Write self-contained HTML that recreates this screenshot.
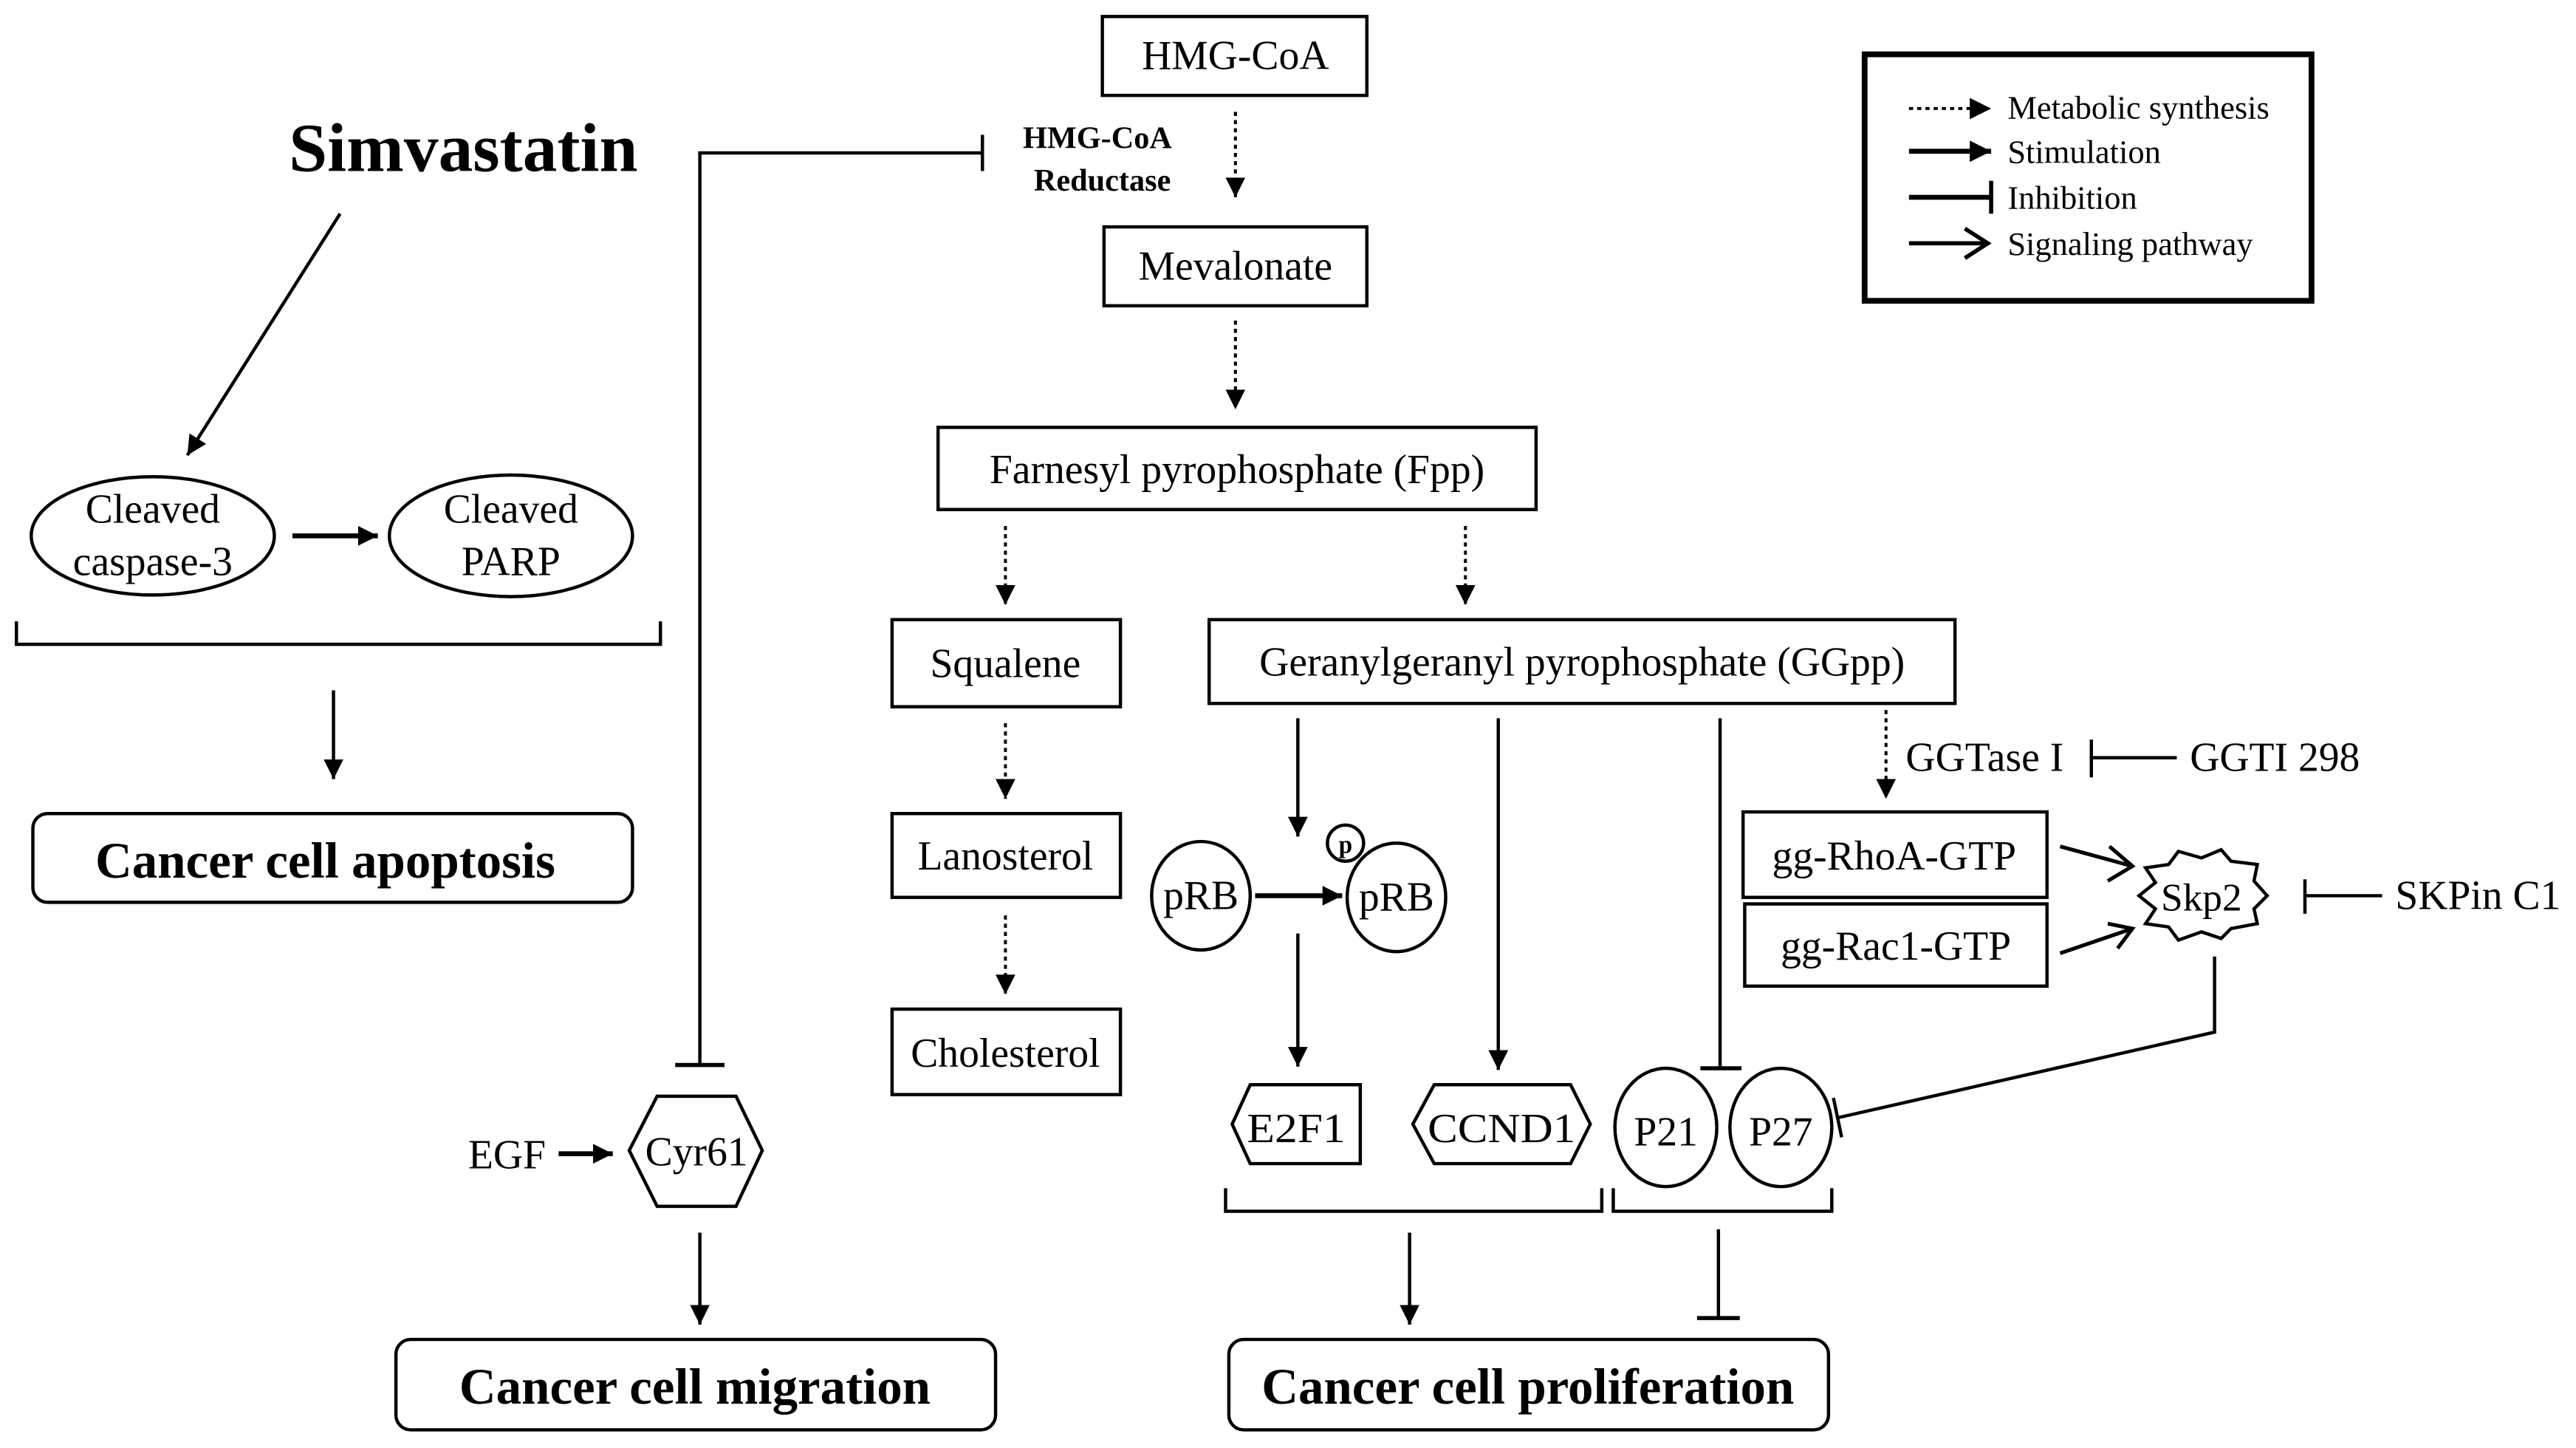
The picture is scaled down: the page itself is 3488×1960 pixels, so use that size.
<!DOCTYPE html>
<html><head><meta charset="utf-8"><style>
html,body{margin:0;padding:0;background:#fff;}
svg{display:block;}
text{font-family:"Liberation Serif",serif;fill:#000;}
</style></head><body>
<svg width="3488" height="1960" viewBox="0 0 1568 881" xmlns="http://www.w3.org/2000/svg">
<defs>
<marker id="a" viewBox="0 0 10 10" refX="10" refY="5" markerWidth="12" markerHeight="12" markerUnits="userSpaceOnUse" orient="auto"><path d="M0,0 L10,5 L0,10 z" fill="#000"/></marker>
<marker id="b" viewBox="0 0 10 10" refX="10" refY="5" markerWidth="13" markerHeight="13" markerUnits="userSpaceOnUse" orient="auto"><path d="M0,0 L10,5 L0,10 z" fill="#000"/></marker>
</defs>
<rect width="1568" height="881" fill="#fff"/>
<g fill="none" stroke="#000" stroke-width="2">
<rect x="671" y="10" width="161" height="48"/>
<rect x="672" y="138" width="160" height="48"/>
<rect x="571" y="260" width="364" height="50"/>
<rect x="543" y="377" width="139" height="53"/>
<rect x="543" y="495" width="139" height="51"/>
<rect x="543" y="614" width="139" height="52"/>
<rect x="736" y="377" width="454" height="51"/>
<rect x="1061" y="494" width="185" height="52"/>
<rect x="1062" y="550" width="184" height="50"/>
<rect x="20" y="495" width="365" height="54" rx="9"/>
<rect x="241" y="815" width="365" height="55" rx="9"/>
<rect x="748" y="815" width="365" height="55" rx="9"/>
<rect x="1135" y="33" width="272" height="150" stroke-width="3.5"/>
<ellipse cx="93" cy="326" rx="74" ry="36"/>
<ellipse cx="311" cy="326" rx="74" ry="37"/>
<ellipse cx="731" cy="545" rx="30" ry="33"/>
<ellipse cx="850" cy="546" rx="30" ry="33"/>
<circle cx="819" cy="513" r="11"/>
<ellipse cx="1014" cy="686" rx="31" ry="36"/>
<ellipse cx="1084" cy="686" rx="31" ry="36"/>
<polygon points="400,667 448,667 464,700 448,734 400,734 383,700"/>
<polygon points="761,660 828,660 828,708 761,708 750,684"/>
<polygon points="873,660 956,660 968,684 956,708 873,708 860,684"/>
<polygon points="1302,545 1312,537 1306,528 1320,526 1326,518 1340,522 1352,517 1358,524 1374,526 1372,536 1380,545 1372,553 1374,562 1358,565 1352,571 1340,567 1326,572 1320,564 1306,562 1312,553"/>
<path d="M10,378 V392 H402 V378"/>
<path d="M746,723 V737 H975 V723"/>
<path d="M982,723 V737 H1115 V723"/>
<g stroke-dasharray="2.5,2.5" stroke-width="1.8">
<line x1="752" y1="68" x2="752" y2="120" marker-end="url(#a)"/>
<line x1="752" y1="195" x2="752" y2="249" marker-end="url(#a)"/>
<line x1="612" y1="320" x2="612" y2="368" marker-end="url(#a)"/>
<line x1="892" y1="320" x2="892" y2="368" marker-end="url(#a)"/>
<line x1="612" y1="440" x2="612" y2="486" marker-end="url(#a)"/>
<line x1="612" y1="557" x2="612" y2="605" marker-end="url(#a)"/>
<line x1="1148" y1="432" x2="1148" y2="486" marker-end="url(#a)"/>
<line x1="1162" y1="66" x2="1212" y2="66" marker-end="url(#b)"/>
</g>
<line x1="207" y1="130" x2="114" y2="277" marker-end="url(#a)"/>
<line x1="178" y1="326" x2="230" y2="326" stroke-width="3" marker-end="url(#a)"/>
<line x1="203" y1="420" x2="203" y2="474" marker-end="url(#a)"/>
<line x1="426" y1="750" x2="426" y2="806" marker-end="url(#a)"/>
<line x1="340" y1="702" x2="373" y2="702" stroke-width="3" marker-end="url(#a)"/>
<line x1="790" y1="437" x2="790" y2="509" marker-end="url(#a)"/>
<line x1="764" y1="545" x2="817" y2="545" stroke-width="3" marker-end="url(#a)"/>
<line x1="790" y1="568" x2="790" y2="649" marker-end="url(#a)"/>
<line x1="912" y1="437" x2="912" y2="651" marker-end="url(#a)"/>
<line x1="858" y1="750" x2="858" y2="806" marker-end="url(#a)"/>
<line x1="1162" y1="92" x2="1212" y2="92" stroke-width="3" marker-end="url(#b)"/>
<path d="M426,648 V93 H598"/><line x1="598" y1="82" x2="598" y2="104"/>
<line x1="411" y1="648" x2="441" y2="648" stroke-width="2.5"/>
<line x1="1047" y1="437" x2="1047" y2="650"/><line x1="1035" y1="650" x2="1060" y2="650" stroke-width="2.5"/>
<line x1="1046" y1="748" x2="1046" y2="802"/><line x1="1033" y1="802" x2="1059" y2="802" stroke-width="2.5"/>
<line x1="1273" y1="461" x2="1325" y2="461"/><line x1="1273" y1="450" x2="1273" y2="473"/>
<line x1="1403" y1="545" x2="1450" y2="545"/><line x1="1403" y1="535" x2="1403" y2="556"/>
<path d="M1348,582 V628 L1119,680"/><line x1="1116" y1="668" x2="1121" y2="692"/>
<line x1="1162" y1="120" x2="1212" y2="120" stroke-width="3"/><line x1="1212" y1="110" x2="1212" y2="130" stroke-width="2.5"/>
<path d="M1254,515 L1298,527 M1284,515 L1298,527 L1283,536" stroke-width="2.3"/>
<path d="M1254,580 L1298,565 M1283,562 L1298,565 L1289,577" stroke-width="2.3"/>
<path d="M1162,148 L1210,148 M1196,139 L1210,148 L1196,157" stroke-width="2.5"/>
</g>
<g font-size="25" text-anchor="middle">
<text x="752" y="42">HMG-CoA</text>
<text x="752" y="170">Mevalonate</text>
<text x="753" y="294">Farnesyl pyrophosphate (Fpp)</text>
<text x="612" y="412">Squalene</text>
<text x="612" y="529">Lanosterol</text>
<text x="612" y="649">Cholesterol</text>
<text x="963" y="411">Geranylgeranyl pyrophosphate (GGpp)</text>
<text x="1153" y="529">gg-RhoA-GTP</text>
<text x="1154" y="584">gg-Rac1-GTP</text>
<text x="731" y="553">pRB</text>
<text x="850" y="554">pRB</text>
<text x="789" y="695" textLength="60" lengthAdjust="spacingAndGlyphs">E2F1</text>
<text x="914" y="695" textLength="90" lengthAdjust="spacingAndGlyphs">CCND1</text>
<text x="1014" y="697">P21</text>
<text x="1084" y="697">P27</text>
<text x="1340" y="554" font-size="24">Skp2</text>
<text x="424" y="709">Cyr61</text>
<text x="93" y="318">Cleaved</text>
<text x="93" y="350">caspase-3</text>
<text x="311" y="318">Cleaved</text>
<text x="311" y="350">PARP</text>
</g>
<g font-size="25">
<text x="285" y="711">EGF</text>
<text x="1160" y="469">GGTase I</text>
<text x="1333" y="469">GGTI 298</text>
<text x="1458" y="553">SKPin C1</text>
</g>
<text x="819" y="519" font-size="15" font-weight="bold" text-anchor="middle">p</text>
<g font-size="19" font-weight="bold" text-anchor="middle">
<text x="668" y="90">HMG-CoA</text>
<text x="671" y="116">Reductase</text>
</g>
<text x="282" y="104" font-size="42" font-weight="bold" text-anchor="middle">Simvastatin</text>
<g font-size="31" font-weight="bold" text-anchor="middle">
<text x="198" y="534">Cancer cell apoptosis</text>
<text x="423" y="854">Cancer cell migration</text>
<text x="930" y="854">Cancer cell proliferation</text>
</g>
<g font-size="20">
<text x="1222" y="72">Metabolic synthesis</text>
<text x="1222" y="99">Stimulation</text>
<text x="1222" y="127">Inhibition</text>
<text x="1222" y="155">Signaling pathway</text>
</g>
</svg>
</body></html>
